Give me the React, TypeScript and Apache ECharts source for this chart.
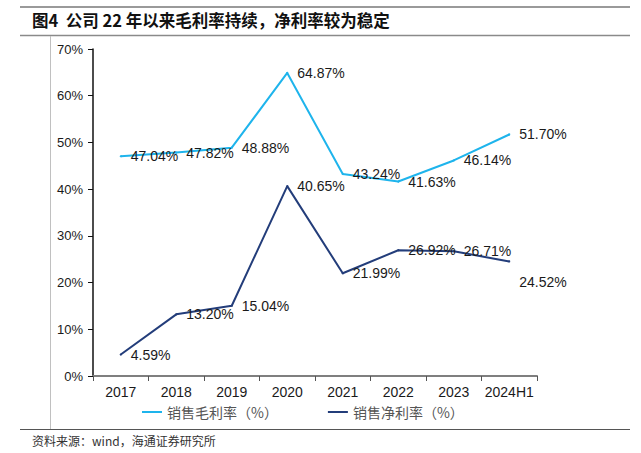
import React, { useEffect, useRef } from "react";
import * as echarts from "echarts";

const categories = ["2017", "2018", "2019", "2020", "2021", "2022", "2023", "2024H1"];
const grossMargin = [47.04, 47.82, 48.88, 64.87, 43.24, 41.63, 46.14, 51.7];
const netMargin = [4.59, 13.2, 15.04, 40.65, 21.99, 26.92, 26.71, 24.52];
const seriesNames = ["销售毛利率（%）", "销售净利率（%）"];
const yTicks = { min: 0, max: 70, interval: 10 };
const titleText = "图4  公司 22 年以来毛利率持续，净利率较为稳定";
const sourceText = "资料来源：wind，海通证券研究所";

const LATIN = "Liberation Sans";
const CJK = "Noto Sans CJK SC";

export default function App() {
  const ref = useRef<HTMLDivElement>(null);
  useEffect(() => {
    if (!ref.current) return;
    const chart = echarts.init(ref.current, null, { renderer: "svg" });
    const labelBase = {
      show: true,
      position: "right" as const,
      distance: 9,
      color: "#1a1a1a",
      fontFamily: LATIN,
      fontSize: 14,
      formatter: (p: any) => Number(p.value).toFixed(2) + "%",
    };
    chart.setOption({
      animation: false,
      backgroundColor: "#ffffff",
      grid: { left: 93, right: 104, top: 49, bottom: 77 },
      legend: {
        left: 142,
        top: 405,
        padding: 0,
        itemWidth: 20,
        itemHeight: 2,
        itemGap: 50,
        icon: "rect",
        textStyle: { fontFamily: CJK, fontSize: 14, color: "#555" },
        data: seriesNames,
      },
      xAxis: {
        type: "category",
        data: categories,
        boundaryGap: true,
        axisLine: { lineStyle: { color: "#7f7f7f", width: 2 } },
        axisTick: { show: true, length: 5, lineStyle: { color: "#555", width: 1 } },
        axisLabel: { fontFamily: LATIN, fontSize: 14, color: "#1a1a1a", margin: 9, interval: 0 },
        splitLine: { show: false },
      },
      yAxis: {
        type: "value",
        min: yTicks.min,
        max: yTicks.max,
        interval: yTicks.interval,
        axisLine: { show: true, lineStyle: { color: "#111", width: 1.5 } },
        axisTick: { show: true, length: 5, lineStyle: { color: "#111" } },
        axisLabel: { fontFamily: LATIN, fontSize: 13, color: "#1a1a1a", margin: 10, formatter: "{value}%" },
        splitLine: { show: false },
      },
      graphic: [
        { type: "line", shape: { x1: 20, y1: 7, x2: 630, y2: 7 }, style: { stroke: "#9a9a9a", lineWidth: 2 } },
        { type: "line", shape: { x1: 20, y1: 35.5, x2: 630, y2: 35.5 }, style: { stroke: "#8a8a8a", lineWidth: 1.5 } },
        { type: "line", shape: { x1: 50.5, y1: 36, x2: 50.5, y2: 429 }, style: { stroke: "#c0c0c0", lineWidth: 1 } },
        { type: "line", shape: { x1: 20, y1: 429.5, x2: 630, y2: 429.5 }, style: { stroke: "#555", lineWidth: 1.2 } },
        {
          type: "text",
          left: 32,
          top: 12,
          style: { text: titleText, fontFamily: CJK, fontSize: 16.5, fontWeight: "bold", fill: "#111" },
        },
        {
          type: "text",
          left: 32,
          top: 434,
          style: { text: sourceText, fontFamily: CJK, fontSize: 12, fill: "#333" },
        },
      ],
      series: [
        {
          name: seriesNames[0],
          type: "line",
          data: grossMargin,
          symbol: "circle",
          symbolSize: 2,
          showSymbol: true,
          itemStyle: { color: "#1eb4ec" },
          lineStyle: { color: "#1eb4ec", width: 2 },
          label: labelBase,
          z: 3,
        },
        {
          name: seriesNames[1],
          type: "line",
          data: netMargin.map((v, i) =>
            i === netMargin.length - 1 ? { value: v, label: { offset: [0, 21] } } : v
          ),
          symbol: "circle",
          symbolSize: 2,
          showSymbol: true,
          itemStyle: { color: "#233d7a" },
          lineStyle: { color: "#233d7a", width: 2 },
          label: labelBase,
          z: 3,
        },
      ],
    });
    return () => chart.dispose();
  }, []);
  return (
    <div
      ref={ref}
      style={{ position: "fixed", left: 0, top: 0, width: 641, height: 453, background: "#fff" }}
    />
  );
}
